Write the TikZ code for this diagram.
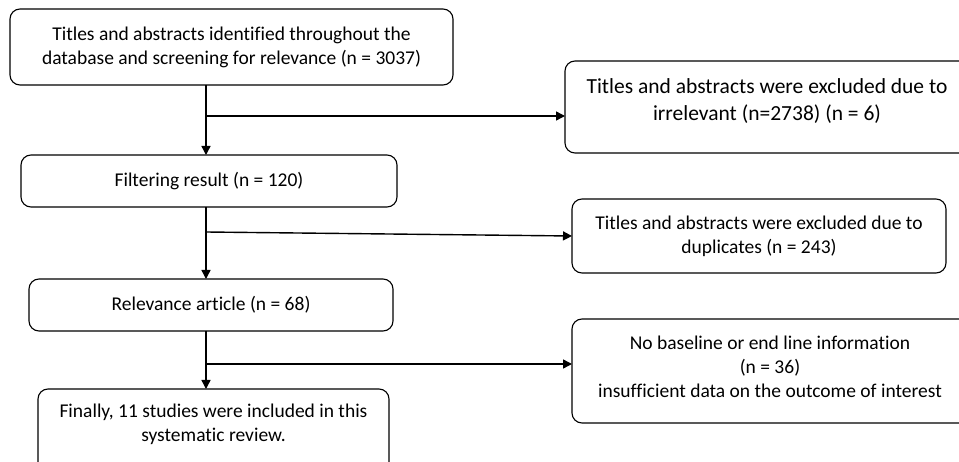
\documentclass[tikz,border=0pt]{standalone}
\usepackage{fontspec}
\setmainfont{Carlito}[Ligatures=NoCommon]
\usetikzlibrary{arrows.meta}
\begin{document}
\begin{tikzpicture}[x=1pt,y=1pt,
  box/.style={draw, line width=1.1pt, rounded corners=10pt, inner sep=0pt, outer sep=0pt, align=center,
    font=\fontsize{19.5}{24}\selectfont},
  txt/.style={inner sep=0pt, align=center, font=\fontsize{19.5}{24}\selectfont},
  arr/.style={line width=1.4pt, -{Triangle[length=9pt,width=9pt]}}]
\useasboundingbox (0,0) rectangle (959,-462);
\clip (0,0) rectangle (959,-462);
\node[box, minimum width=443pt, minimum height=76pt] (b1) at (231.5,-47)
  {Titles and abstracts identified throughout the\\database and screening for relevance (n = 3037)};
\node[box, minimum width=410pt, minimum height=92pt] (b2) at (770,-107) {};
\node[txt, font=\fontsize{21.5}{27}\selectfont] (t2) at (767,-101)
  {Titles and abstracts were excluded due to\\irrelevant (n=2738) (n = 6)};
\node[box, minimum width=376pt, minimum height=52pt] (b3) at (209,-181) {Filtering result (n = 120)};
\node[box, minimum width=374pt, minimum height=74pt] (b4) at (759,-236)
  {Titles and abstracts were excluded due to\\duplicates (n = 243)};
\node[box, minimum width=364pt, minimum height=52pt] (b5) at (211,-305) {Relevance article (n = 68)};
\node[box, minimum width=403pt, minimum height=104pt] (b6) at (773.5,-371) {};
\node[txt] (t6) at (770,-367)
  {No baseline or end line information\\(n = 36)\\insufficient data on the outcome of interest};
\node[box, minimum width=351pt, minimum height=86pt] (b7) at (213.5,-432) {};
\node[txt] (t7) at (213.5,-424)
  {Finally, 11 studies were included in this\\systematic review.};
\coordinate (s1) at (206,-116);
\coordinate (s2) at (206,-232);
\coordinate (s3) at (206,-364);
\draw[arr] (b1.south -| s1) -- (b3.north -| s1);
\draw[arr] (s1) -- (b2.west |- s1);
\draw[arr] (b3.south -| s2) -- (b5.north -| s2);
\draw[arr] (s2) -- (b4.west);
\draw[arr] (b5.south -| s3) -- (b7.north -| s3);
\draw[arr] (s3) -- (b6.west |- s3);
\end{tikzpicture}
\end{document}
